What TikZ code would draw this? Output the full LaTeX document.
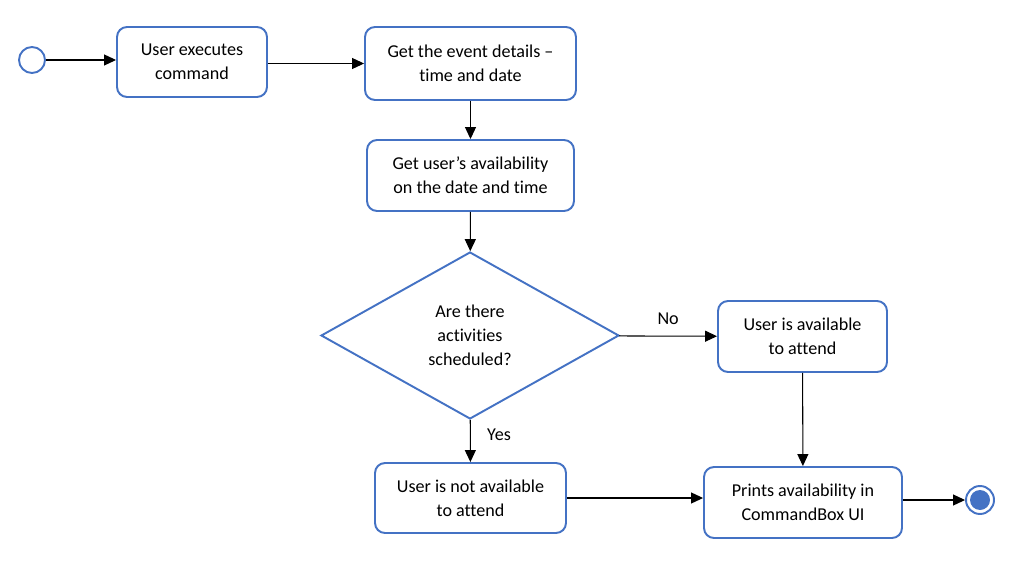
\documentclass[tikz,border=0pt]{standalone}
\usepackage{fontspec}
\setmainfont{Carlito}[RawFeature=-liga]
\usetikzlibrary{shapes.geometric,arrows.meta}
\definecolor{boxblue}{HTML}{4472C4}

\tikzset{
  act/.style={draw=boxblue, line width=1.1pt, rounded corners=0.2cm, fill=white,
    align=center, font=\fontsize{10.3}{13.6}\selectfont, inner sep=0pt},
  choice/.style={draw=boxblue, line width=1.1pt, diamond, fill=white, align=center,
    font=\fontsize{10.3}{13.6}\selectfont, inner sep=0pt},
  flow/.style={-{Triangle[length=2.4mm,width=2.2mm]}, line width=0.6pt},
  guard/.style={font=\fontsize{10.3}{13.6}\selectfont},
}

\begin{document}
\begin{tikzpicture}[x=0.02cm, y=-0.02cm]
        \useasboundingbox (0,0) rectangle (1017,574);

        \node[draw=boxblue, line width=1.1pt, circle, minimum size=0.52cm, inner sep=0pt] (start) at (32,60) {};
        \node[act, minimum width=3cm, minimum height=1.4cm] (exec) at (192,62) {User executes\\command};
        \node[act, minimum width=4.22cm, minimum height=1.46cm] (details) at (470.5,63.5) {Get the event details --\\time and date};
        \node[act, minimum width=4.14cm, minimum height=1.42cm] (avail) at (470.5,175.5) {Get user’s availability\\on the date and time};
        \node[choice, minimum width=5.96cm, minimum height=3.34cm] (sched) at (470,335.5) {Are there\\activities\\scheduled?};
        \node[act, minimum width=3.38cm, minimum height=1.42cm] (free) at (802.5,336.5) {User is available\\to attend};
        \node[act, minimum width=3.82cm, minimum height=1.4cm] (busy) at (470.5,498) {User is not available\\to attend};
        \node[act, minimum width=3.96cm, minimum height=1.42cm] (print) at (803,502.5) {Prints availability in\\CommandBox UI};
        \node[draw=boxblue, line width=1.1pt, circle, minimum size=0.56cm, inner sep=0pt] (stop) at (980,500) {};
        \node[fill=boxblue, circle, minimum size=0.4cm, inner sep=0pt] (stopdot) at (stop) {};

        \draw[flow] (start) -- (start -| exec.west);
        \draw[flow] (details.west -| exec.east) -- (details.west);
        \draw[flow] (details) -- (avail);
        \draw[flow] (avail) -- (sched);
        \draw[flow] (sched) -- node[guard, above=3pt] {No} (free);
        \draw[flow] (sched) -- node[guard, right=6pt, pos=0.35] {Yes} (busy);
        \draw[flow] (busy) -- (busy -| print.west);
        \draw[flow] (free) -- (print);
        \draw[flow] (print.east |- stop) -- (stop);

    \end{tikzpicture}
\end{document}
